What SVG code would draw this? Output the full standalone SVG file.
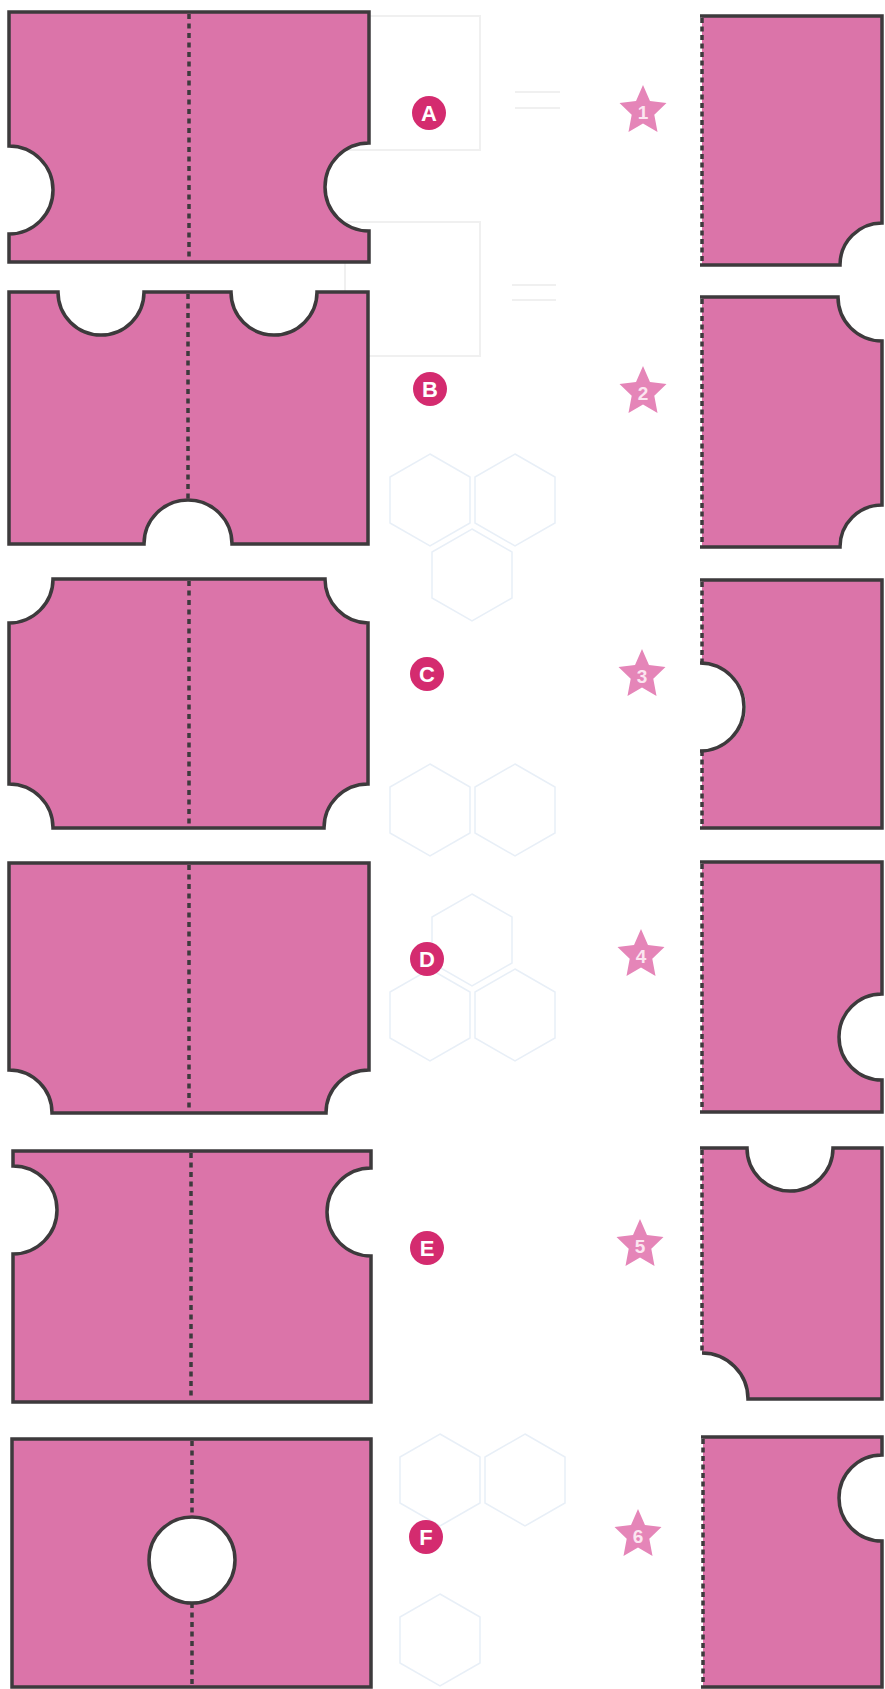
<svg xmlns="http://www.w3.org/2000/svg" width="885" height="1689" viewBox="0 0 885 1689">
<style>
.card{fill:#db74a9;stroke:#3d3a3c;stroke-width:3.5;stroke-linejoin:miter}
.fill{fill:#db74a9;stroke:none}
.edge{fill:none;stroke:#3d3a3c;stroke-width:3.5}
.fold{fill:none;stroke:#3d3a3c;stroke-width:3.5;stroke-dasharray:5 4.5}
.perf{fill:none;stroke:#3d3a3c;stroke-width:3.5;stroke-dasharray:5 3.5}
.hole{fill:#ffffff;stroke:#3d3a3c;stroke-width:3.5}
.badge{fill:#d42b6f}
.bl{font-family:"Liberation Sans",Arial,sans-serif;font-weight:bold;font-size:22px;fill:#ffffff;text-anchor:middle}
.star{fill:#e585b8}
.sl{font-family:"Liberation Sans",Arial,sans-serif;font-weight:bold;font-size:19px;fill:#fbe6f0;text-anchor:middle}
.bg{fill:none;stroke:#e8eff7;stroke-width:1.5}
.bgg{fill:none;stroke:#f0f0f0;stroke-width:2}
</style>
<defs>
<polygon id="st" points="0,-26 6.98,-10.11 23.49,-8.03 11.29,3.86 14.52,21.03 0,12.5 -14.52,21.03 -11.29,3.86 -23.49,-8.03 -6.98,-10.11"/>
<polygon id="hx" points="0,-46 40,-23 40,23 0,46 -40,23 -40,-23"/>
</defs>
<rect width="885" height="1689" fill="#ffffff"/>
<g id="background">
<rect class="bgg" x="345" y="16" width="135" height="134"/>
<rect class="bgg" x="345" y="222" width="135" height="134"/>
<line class="bgg" x1="515" y1="92" x2="560" y2="92"/>
<line class="bgg" x1="515" y1="108" x2="560" y2="108"/>
<line class="bgg" x1="512" y1="285" x2="556" y2="285"/>
<line class="bgg" x1="512" y1="300" x2="556" y2="300"/>
<use href="#hx" class="bg" x="430" y="500"/>
<use href="#hx" class="bg" x="515" y="500"/>
<use href="#hx" class="bg" x="472" y="575"/>
<use href="#hx" class="bg" x="430" y="810"/>
<use href="#hx" class="bg" x="515" y="810"/>
<use href="#hx" class="bg" x="430" y="1015"/>
<use href="#hx" class="bg" x="515" y="1015"/>
<use href="#hx" class="bg" x="472" y="940"/>
<use href="#hx" class="bg" x="440" y="1480"/>
<use href="#hx" class="bg" x="525" y="1480"/>
<use href="#hx" class="bg" x="440" y="1640"/>
</g>
<g id="card-A">
<path class="card" d="M9,12 H369 V143 A44,44 0 0 0 369,231 V262 H9 V234 A44,44 0 0 0 9,146 Z"/>
<line class="fold" x1="189" y1="14" x2="189" y2="260"/>
</g>
<g id="card-B">
<path class="card" d="M9,292 H58 A43,43 0 0 0 144,292 H231 A43,43 0 0 0 317,292 H368 V544 H232 A44,44 0 0 0 144,544 H9 Z"/>
<line class="fold" x1="188" y1="294" x2="188" y2="500"/>
</g>
<g id="card-C">
<path class="card" d="M53,579 H325 A44,44 0 0 0 368,623 V784 A44,44 0 0 0 324,828 H53 A44,44 0 0 0 9,784 V623 A44,44 0 0 0 53,579 Z"/>
<line class="fold" x1="189" y1="581" x2="189" y2="826"/>
</g>
<g id="card-D">
<path class="card" d="M9,863 H369 V1070 A43,43 0 0 0 326,1113 H52 A43,43 0 0 0 9,1070 Z"/>
<line class="fold" x1="189" y1="865" x2="189" y2="1111"/>
</g>
<g id="card-E">
<path class="card" d="M13,1151 H371 V1168 A44,44 0 0 0 371,1256 V1402 H13 V1254 A44,44 0 0 0 13,1166 Z"/>
<line class="fold" x1="191" y1="1153" x2="191" y2="1400"/>
</g>
<g id="card-F">
<path class="card" d="M12,1439 H371 V1687 H12 Z"/>
<line class="fold" x1="192" y1="1441" x2="192" y2="1517"/>
<line class="fold" x1="192" y1="1603" x2="192" y2="1685"/>
<circle class="hole" cx="192" cy="1560" r="43"/>
</g>
<g id="card-1">
<path class="fill" d="M702,16 H882 V223 A42,42 0 0 0 840,265 H702 Z"/>
<path class="edge" d="M700,16 H882 V223 A42,42 0 0 0 840,265 H700"/>
<line class="perf" x1="702" y1="18" x2="702" y2="263"/>
</g>
<g id="card-2">
<path class="fill" d="M702,297 H838 A44,44 0 0 0 882,341 V505 A42,42 0 0 0 840,547 H702 Z"/>
<path class="edge" d="M700,297 H838 A44,44 0 0 0 882,341 V505 A42,42 0 0 0 840,547 H700"/>
<line class="perf" x1="702" y1="299" x2="702" y2="545"/>
</g>
<g id="card-3">
<path class="fill" d="M702,580 H882 V828 H702 V751 A44,44 0 0 0 702,663 Z"/>
<path class="edge" d="M700,580 H882 V828 H700"/>
<path class="edge" d="M700,663 A44,44 0 0 1 700,751"/>
<line class="perf" x1="702" y1="582" x2="702" y2="663"/>
<line class="perf" x1="702" y1="751" x2="702" y2="826"/>
</g>
<g id="card-4">
<path class="fill" d="M702,862 H882 V994 A43,43 0 0 0 882,1080 V1112 H702 Z"/>
<path class="edge" d="M700,862 H882 V994 A43,43 0 0 0 882,1080 V1112 H700"/>
<line class="perf" x1="702" y1="864" x2="702" y2="1110"/>
</g>
<g id="card-5">
<path class="fill" d="M702,1148 H747 A43,43 0 0 0 833,1148 H882 V1399 H748 A45,45 0 0 0 702,1354 Z"/>
<path class="edge" d="M700,1148 H747 A43,43 0 0 0 833,1148 H882 V1399 H748 A46,46 0 0 0 702,1353"/>
<line class="perf" x1="702" y1="1150" x2="702" y2="1353"/>
</g>
<g id="card-6">
<path class="fill" d="M703,1437 H882 V1455 A43,43 0 0 0 882,1541 V1687 H703 Z"/>
<path class="edge" d="M701,1437 H882 V1455 A43,43 0 0 0 882,1541 V1687 H701"/>
<line class="perf" x1="703" y1="1439" x2="703" y2="1685"/>
</g>
<g id="label-A"><circle class="badge" cx="429" cy="113" r="17"/><text class="bl" x="429" y="121">A</text></g>
<g id="label-B"><circle class="badge" cx="430" cy="389" r="17"/><text class="bl" x="430" y="397">B</text></g>
<g id="label-C"><circle class="badge" cx="427" cy="674" r="17"/><text class="bl" x="427" y="682">C</text></g>
<g id="label-D"><circle class="badge" cx="427" cy="959" r="17"/><text class="bl" x="427" y="967">D</text></g>
<g id="label-E"><circle class="badge" cx="427" cy="1248" r="17"/><text class="bl" x="427" y="1256">E</text></g>
<g id="label-F"><circle class="badge" cx="426" cy="1537" r="17"/><text class="bl" x="426" y="1545">F</text></g>
<g id="star-1"><use href="#st" class="star" x="643" y="111"/><text class="sl" x="643" y="119">1</text></g>
<g id="star-2"><use href="#st" class="star" x="643" y="392"/><text class="sl" x="643" y="400">2</text></g>
<g id="star-3"><use href="#st" class="star" x="642" y="675"/><text class="sl" x="642" y="683">3</text></g>
<g id="star-4"><use href="#st" class="star" x="641" y="955"/><text class="sl" x="641" y="963">4</text></g>
<g id="star-5"><use href="#st" class="star" x="640" y="1245"/><text class="sl" x="640" y="1253">5</text></g>
<g id="star-6"><use href="#st" class="star" x="638" y="1535"/><text class="sl" x="638" y="1543">6</text></g>
<g id="connectors"></g>
</svg>
